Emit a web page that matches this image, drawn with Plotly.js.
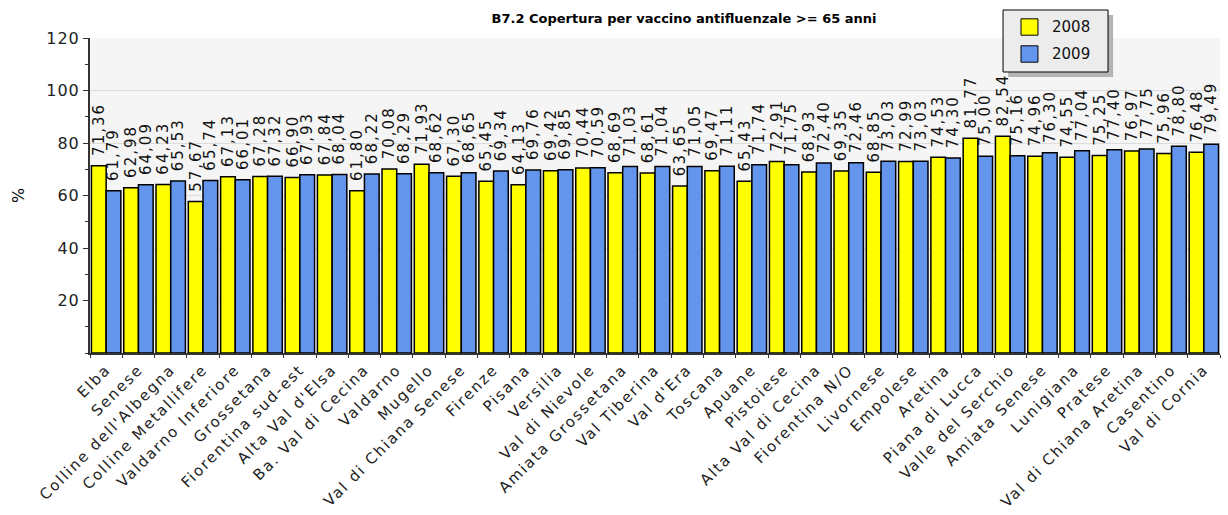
<!DOCTYPE html>
<html><head><meta charset="utf-8">
<script src="https://cdn.plot.ly/plotly-3.0.1.min.js"></script>
<style>
html,body{margin:0;padding:0;background:#fff;}#c{width:1228px;height:515px;}
text.bartext{letter-spacing:2px;}
g.xtick text{letter-spacing:1.8px;}
g.ytick text{letter-spacing:1px;}
</style>
</head><body><div id="c"></div>
<script>
const categories = ["Elba","Senese","Colline dell'Albegna","Colline Metallifere","Valdarno Inferiore","Grossetana","Fiorentina sud-est","Alta Val d'Elsa","Ba. Val di Cecina","Valdarno","Mugello","Val di Chiana Senese","Firenze","Pisana","Versilia","Val di Nievole","Amiata Grossetana","Val Tiberina","Val d'Era","Toscana","Apuane","Pistoiese","Alta Val di Cecina","Fiorentina N/O","Livornese","Empolese","Aretina","Piana di Lucca","Valle del Serchio","Amiata Senese","Lunigiana","Pratese","Val di Chiana Aretina","Casentino","Val di Cornia"];
const values2008 = [71.36,62.98,64.23,57.67,67.13,67.28,66.90,67.84,61.80,70.08,71.93,67.30,65.45,64.13,69.42,70.44,68.69,68.61,63.65,69.47,65.43,72.91,68.93,69.35,68.85,72.99,74.53,81.77,82.54,74.96,74.55,75.25,76.97,75.96,76.48];
const values2009 = [61.79,64.09,65.53,65.74,66.01,67.32,67.93,68.04,68.22,68.29,68.62,68.65,69.34,69.76,69.85,70.59,71.03,71.04,71.05,71.11,71.74,71.75,72.40,72.46,73.03,73.03,74.30,75.00,75.16,76.30,77.04,77.40,77.75,78.80,79.49];
const seriesNames = ['2008','2009'];
const seriesColors = ['#ffff00','#6495ed'];
const yTicks = [20,40,60,80,100,120];

const F = "DejaVu Sans, Verdana, sans-serif";
function mk(name, vals, color){
  return {type:'bar', name:name, x:categories, y:vals, showlegend:false,
    marker:{color:color, line:{color:'#000', width:1.5}},
    texttemplate:'\u00a0%{y:.2f}', textposition:'outside', textangle:-90,
    constraintext:'none', cliponaxis:false,
    textfont:{family:F, size:15, color:'#111'}, hoverinfo:'x+y'};
}
const data = [mk(seriesNames[0], values2008, seriesColors[0]), mk(seriesNames[1], values2009, seriesColors[1])];

// legend box (drawn manually to match the original framed legend with shadow)
const L = {x0:0.8080, x1:0.9009, y0:1.0889, y1:0.8921};
const shapes = [
  {type:'rect', xref:'paper', yref:'paper', x0:L.x0+0.0045, x1:L.x1+0.0045, y0:L.y0-0.016, y1:L.y1-0.016, fillcolor:'#b4b4b4', line:{width:0}},
  {type:'rect', xref:'paper', yref:'paper', x0:L.x0, x1:L.x1, y0:L.y0, y1:L.y1, fillcolor:'#ececec', line:{color:'#000', width:1}}
];
const annotations = [];
seriesNames.forEach((n,i)=>{
  const yc = 1.0349 - i*0.0857;
  shapes.push({type:'rect', xref:'paper', yref:'paper', x0:0.8239, x1:0.8389, y0:yc+0.026, y1:yc-0.026, fillcolor:seriesColors[i], line:{color:'#000', width:1}});
  annotations.push({xref:'paper', yref:'paper', x:0.8496, y:yc, xanchor:'left', yanchor:'middle', showarrow:false, text:n, font:{family:F, size:15, color:'#111'}});
});

const layout = {
  width:1228, height:515, separators:',.',
  margin:{l:90, r:8, t:38, b:162},
  paper_bgcolor:'#ffffff', plot_bgcolor:'#f5f5f5',
  font:{family:F, size:12, color:'#000'},
  title:{text:'<b>B7.2 Copertura per vaccino antifluenzale >= 65 anni</b>', x:0.557, xanchor:'center', y:0.965, yanchor:'middle', font:{family:F, size:13, color:'#000'}},
  bargap:0.09, bargroupgap:0,
  xaxis:{type:'category', tickangle:-45, tickfont:{family:F, size:15, color:'#222'},
    showline:true, linecolor:'#333', linewidth:2, ticks:'outside', tickson:'boundaries', ticklen:3, tickcolor:'#333', showgrid:false, automargin:false},
  yaxis:{range:[0,120], tickvals:yTicks, ticktext:yTicks.map(String), tickfont:{family:F, size:16, color:'#222'},
    showline:true, linecolor:'#333', linewidth:2, ticks:'outside', ticklen:5, tickcolor:'#333',
    minor:{dtick:10, ticks:'outside', ticklen:3, tickcolor:'#333', showgrid:false},
    showgrid:true, gridcolor:'#dcdcdc', gridwidth:1, zeroline:false, automargin:false,
    title:{text:'%', font:{family:F, size:16, color:'#000'}, standoff:18}},
  showlegend:false,
  shapes:shapes, annotations:annotations
};
Plotly.newPlot('c', data, layout, {displayModeBar:false});
</script></body></html>
